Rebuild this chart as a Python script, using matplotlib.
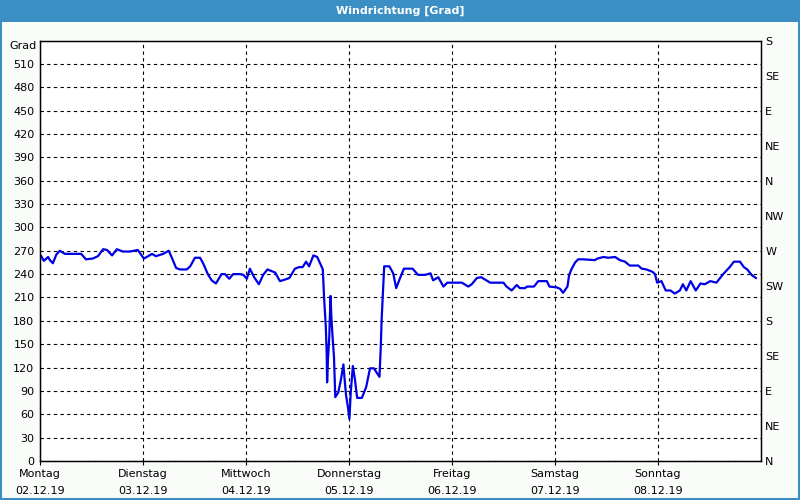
import matplotlib.pyplot as plt
from matplotlib.patches import Rectangle

# hours since Monday 00:00 and wind direction in degrees
hours = [
    0.3, 0.9, 1.9, 2.3, 3.0, 3.8, 4.6, 5.8, 9.6, 10.7, 12.3, 13.5, 14.7, 15.6,
    16.8, 17.9, 19.3, 21.0, 22.8, 24.2, 25.2, 26.1, 27.0, 28.7, 30.0, 30.8,
    31.7, 32.6, 34.2, 35.0, 36.1, 37.3, 38.0, 39.1, 40.0, 41.0, 42.3, 43.1,
    44.1, 45.0, 46.6, 47.4, 48.2, 48.9, 49.9, 51.0, 52.0, 53.0, 54.8, 55.9,
    57.1, 58.1, 59.4, 60.4, 61.2, 62.0, 62.7, 63.7, 64.6, 65.9, 66.2, 66.6,
    66.8, 66.9, 67.1, 67.4, 67.7, 67.9, 68.2, 68.5, 68.8, 69.5, 70.1, 70.7,
    70.9, 71.3, 71.7, 72.1, 72.4, 72.9, 73.4, 73.9, 75.0, 76.0, 76.9, 77.8,
    79.1, 79.4, 79.6, 79.9, 80.2, 81.4, 82.3, 83.0, 83.9, 84.8, 86.8, 88.1,
    89.7, 91.0, 91.6, 92.8, 94.0, 94.9, 97.1, 98.3, 99.8, 100.6, 101.8, 102.8,
    103.7, 104.9, 106.8, 108.0, 108.7, 109.9, 111.1, 111.8, 113.0, 113.5,
    115.1, 116.1, 118.1, 118.7, 120.4, 121.2, 121.9, 122.9, 123.3, 123.9,
    124.7, 125.4, 126.5, 129.3, 129.9, 131.3, 132.4, 134.0, 135.1, 136.3,
    137.4, 139.4, 140.2, 141.3, 142.7, 143.3, 143.8, 144.8, 145.8, 146.9,
    147.9, 149.1, 149.8, 150.6, 151.6, 152.8, 153.9, 154.9, 156.2, 157.6,
    159.2, 160.7, 161.7, 163.1, 164.0, 164.8, 165.8, 166.8,
]
direction = [
    263, 257, 262, 258, 254, 265, 270, 266, 266, 259, 260, 263, 272, 271,
    264, 272, 269, 269, 271, 260, 263, 266, 263, 266, 270, 260,
    248, 246, 246, 250, 261, 261, 254, 240, 232, 228, 240, 240,
    234, 240, 240, 239, 234, 247, 236, 227, 239, 246, 242, 231,
    233, 235, 247, 249, 249, 256, 250, 264, 262, 246, 209, 172,
    138, 101, 131, 159, 212, 184, 157, 134, 82, 88, 104, 124,
    110, 85, 71, 54, 88, 122, 104, 81, 81, 95, 119, 119,
    108, 146, 181, 217, 250, 250, 241, 222, 235, 247, 247, 239,
    239, 241, 232, 236, 224, 229, 229, 229, 224, 227, 235, 236,
    233, 229, 229, 229, 224, 219, 226, 222, 222, 224,
    224, 231, 231, 224, 223, 221, 216, 224, 239, 247,
    255, 259, 259, 258, 260, 262, 261, 262, 258, 256,
    251, 251, 247, 246, 243, 240, 229, 231, 219, 219,
    215, 219, 227, 219, 231, 219, 228, 227, 231, 229,
    240, 249, 256, 256, 249, 246, 239, 235,
]

days = ["Montag", "Dienstag", "Mittwoch", "Donnerstag", "Freitag", "Samstag", "Sonntag"]
dates = ["02.12.19", "03.12.19", "04.12.19", "05.12.19", "06.12.19", "07.12.19", "08.12.19"]
compass = ["N", "NE", "E", "SE", "S", "SW", "W", "NW", "N", "NE", "E", "SE", "S"]

BLUE = "#3b8fc4"

fig = plt.figure(figsize=(8, 5), dpi=100, facecolor="#f9fcf9")
plt.rcParams["font.family"] = ["DejaVu Sans"]

# title bar and border
fig.patches.append(Rectangle((0, 1 - 22 / 500), 1, 22 / 500, transform=fig.transFigure,
                             facecolor=BLUE, edgecolor="none", zorder=0))
fig.patches.append(Rectangle((0.001, 0.002), 0.998, 0.99, transform=fig.transFigure,
                             facecolor="none", edgecolor=BLUE, linewidth=1.5, zorder=0))
fig.text(0.5, 1 - 11 / 500, "Windrichtung [Grad]", color="white", ha="center",
         va="center", fontsize=8, fontweight="bold")

ax = fig.add_axes([40 / 800, 1 - 461 / 500, 721 / 800, 420.5 / 500])
ax.set_facecolor("white")
ax.plot(hours, direction, color="#0000e6", linewidth=1.6)

ax.set_xlim(0, 168)
ax.set_ylim(0, 540)
ax.set_xticks(range(0, 168, 24))
ax.set_xticklabels([f"{d}\n{t}" for d, t in zip(days, dates)], fontsize=8, linespacing=1.8)
ax.set_yticks(range(0, 540, 30))
ax.tick_params(axis="both", labelsize=8, length=3, width=0.8, pad=3, color="black")
ax.tick_params(axis="y", length=0, pad=4)
ax.grid(True, color="black", linestyle=(0, (3, 3)), linewidth=0.8)
for sp in ax.spines.values():
    sp.set_linewidth(1)
    sp.set_color("black")

ax.text(-0.005, 0.988, "Grad", transform=ax.transAxes, ha="right", va="center", fontsize=8)

ax2 = ax.twinx()
ax2.set_ylim(0, 540)
ax2.set_yticks(range(0, 541, 45))
ax2.set_yticklabels(compass, fontsize=8)
ax2.tick_params(axis="y", length=0, pad=3)

fig.savefig("out.png", dpi=100, facecolor=fig.get_facecolor())
